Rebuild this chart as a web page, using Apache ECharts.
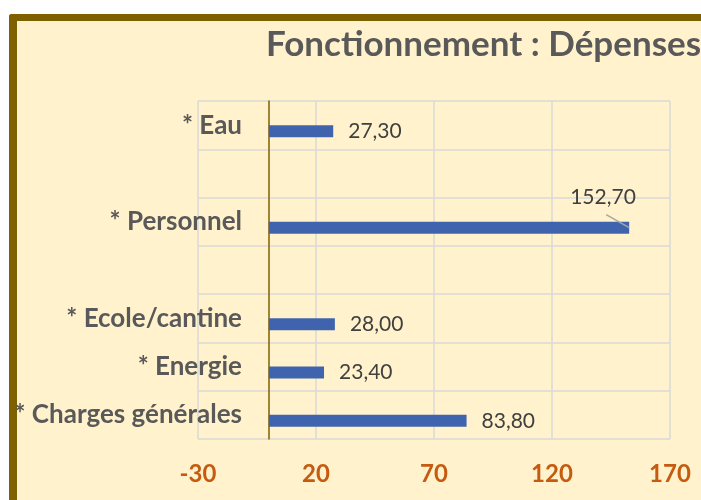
<!DOCTYPE html>
<html>
<head>
<meta charset="utf-8">
<script src="https://cdn.jsdelivr.net/npm/echarts@6/dist/echarts.min.js"></script>
<style>
	html, body { margin: 0; padding: 0; background: #fff; overflow: hidden; }
	#frame {
		position: absolute; left: 9px; top: 14px; width: 720px; height: 500px;
		background: #FFF2CC; border-left: 8px solid #7F6000; border-top: 7px solid #7F6000;
		border-top-left-radius: 3px;
	}
	#chart { position: absolute; left: 0; top: 0; width: 701px; height: 500px; }
</style>
</head>
<body>
<div id="frame"></div>
<div id="chart"></div>
<script>
// postes de dépenses (de haut en bas)
const categories = ['* Eau', ' ', '* Personnel', '  ', '* Ecole/cantine', '* Energie', '* Charges générales'];
// montants
const depenses = [27.3, null, 152.7, null, 28.0, 23.4, 83.8];
// graduations de l'axe
const xMin = -30, xMax = 170, xStep = 50;

const chart = echarts.init(document.getElementById('chart'), null, { renderer: 'canvas' });

// rectangle de la barre "Personnel", relevé pendant la mise en page des étiquettes
let personnelRect = null;

chart.setOption({
	backgroundColor: 'transparent',
	title: {
		text: 'Fonctionnement : Dépenses',
		left: 266,
		top: 27,
		padding: 0,
		textStyle: { fontFamily: 'Lato', fontWeight: 'bold', fontSize: 35, color: '#595959' }
	},
	grid: { left: 198, right: 31, top: 101, bottom: 61, outerBoundsMode: 'none', containLabel: false },
	xAxis: {
		type: 'value',
		min: xMin,
		max: xMax,
		interval: xStep,
		axisLine: { show: false },
		axisTick: { show: false },
		axisLabel: { margin: 23, fontFamily: 'Lato', fontWeight: 'bold', fontSize: 24, color: '#C55A11' },
		splitLine: { show: true, lineStyle: { color: '#D9D9D9', width: 1.5 } }
	},
	yAxis: {
		type: 'category',
		inverse: true,
		data: categories,
		axisLine: { show: true, onZero: true, lineStyle: { color: '#7F6000', width: 1.5 } },
		axisTick: { show: false },
		// les libellés suivent l'axe placé sur 0
		axisLabel: { margin: -44, fontFamily: 'Lato', fontWeight: 'bold', fontSize: 26, color: '#595959' },
		splitLine: { show: true, lineStyle: { color: '#D9D9D9', width: 1.5 } }
	},
	series: [
		{
			// série vide (décalage des barres comme dans Excel)
			type: 'bar',
			data: [],
			barWidth: 12,
			barGap: '0%'
		},
		{
			type: 'bar',
			data: depenses,
			barWidth: 12,
			barGap: '0%',
			itemStyle: { color: '#3F64AD' },
			label: {
				show: true,
				position: 'right',
				distance: 15,
				fontFamily: 'Lato',
				fontSize: 21,
				color: '#404040',
				formatter: (p) => p.value.toFixed(2).replace('.', ',')
			},
			labelLayout: (p) => {
				if (p.dataIndex !== 2) return;
				personnelRect = p.rect;
				return { dx: -74, dy: -30 };
			}
		}
	]
});

// trait de rappel de l'étiquette déplacée
if (personnelRect) {
	const ex = personnelRect.x + personnelRect.width;
	const ey = personnelRect.y + personnelRect.height / 2;
	chart.setOption({
		graphic: [{
			type: 'line',
			shape: { x1: ex - 23, y1: ey - 13, x2: ex, y2: ey },
			style: { stroke: '#A6A6A6', lineWidth: 1.5 },
			z: 10
		}]
	});
}
</script>
</body>
</html>
